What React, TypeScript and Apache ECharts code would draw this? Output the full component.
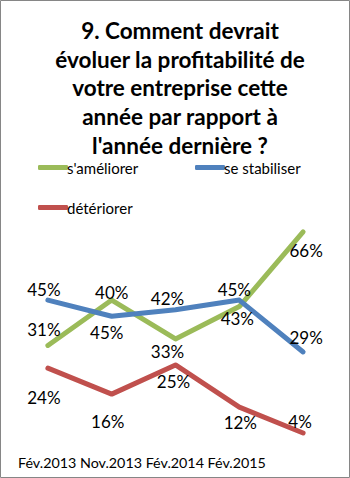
import React, { useEffect, useRef } from "react";
import * as echarts from "echarts";

const titleLines = [
  "9. Comment devrait",
  "évoluer la profitabilité de",
  "votre entreprise cette",
  "année par rapport à",
  "l'année dernière ?",
];
const seriesNames = ["s'améliorer", "se stabiliser", "détériorer"];
const pointKeys = ["1", "2", "3", "4", "5"];
const xTickLabels = ["Fév.2013", "Nov.2013", "Fév.2014", "Fév.2015"];
const ameliorer = [31, 45, 33, 43, 66];
const stabiliser = [45, 40, 42, 45, 29];
const deteriorer = [24, 16, 25, 12, 4];

const colors = ["#9BBB59", "#4F81BD", "#C0504D"];
const labelOffsets: number[][][] = [
  [[-4, -16], [-5, 32], [-8, 13], [-2, 12], [3, 19]],
  [[-4, -11], [0, -24], [-8, -11], [-5, -11], [3, -14]],
  [[-4, 29], [-4, 27], [-2, 17], [1, 15], [-3, -12]],
];
const FONT = "Lato";

export default function App() {
  const ref = useRef<HTMLDivElement>(null);
  useEffect(() => {
    const chart = echarts.init(ref.current!, null, { renderer: "svg" });
    const allValues = [ameliorer, stabiliser, deteriorer];
    const legendPos = [
      { left: 33, top: 155 },
      { left: 190, top: 155 },
      { left: 33, top: 195 },
    ];
    chart.setOption({
      animation: false,
      backgroundColor: "#fff",
      title: {
        text: titleLines.join("\n"),
        left: 175,
        top: 11,
        textAlign: "center",
        textStyle: {
          fontFamily: FONT,
          fontWeight: "bold",
          fontSize: 22.5,
          lineHeight: 28.7,
          color: "#000",
        },
      },
      legend: seriesNames.map((n, i) => ({
        data: [n],
        left: legendPos[i].left,
        top: legendPos[i].top,
        icon: "roundRect",
        itemWidth: 30,
        itemHeight: 5,
        textStyle: {
          fontFamily: FONT,
          fontSize: 15,
          color: "#000",
          padding: [0, 0, 0, -6],
        },
      })),
      grid: { left: 16, width: 319, top: 219, height: 227 },
      xAxis: {
        type: "category",
        data: pointKeys,
        boundaryGap: true,
        show: false,
      },
      yAxis: { type: "value", min: 0, max: 70, show: false },
      graphic: [
        {
          type: "rect",
          shape: { x: 0.5, y: 0.5, width: 349, height: 477 },
          style: { fill: "none", stroke: "#868686", lineWidth: 1 },
          silent: true,
        },
        {
          type: "text",
          left: 18,
          top: 455,
          style: {
            text: xTickLabels.join(" "),
            fontFamily: FONT,
            fontSize: 14.3,
            fill: "#000",
          },
        },
      ],
      series: seriesNames.map((n, si) => ({
        name: n,
        type: "line",
        color: colors[si],
        symbol: "circle",
        symbolSize: 1,
        showSymbol: true,
        lineStyle: { width: 5, color: colors[si], join: "round", cap: "round" },
        itemStyle: { color: colors[si] },
        label: {
          show: true,
          position: "inside",
          formatter: "{c}%",
          fontFamily: FONT,
          fontSize: 17,
          color: "#000",
        },
        data: allValues[si].map((v, i) => ({
          value: v,
          label: { offset: labelOffsets[si][i] },
        })),
      })),
    });
    return () => chart.dispose();
  }, []);
  return (
    <div
      ref={ref}
      style={{ position: "fixed", left: 0, top: 0, width: 350, height: 478 }}
    />
  );
}
